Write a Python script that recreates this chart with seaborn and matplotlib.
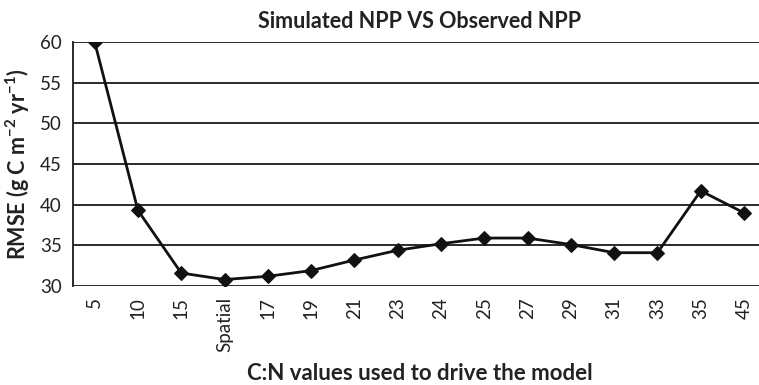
import matplotlib
matplotlib.use("Agg")
import matplotlib.pyplot as plt
import seaborn as sns
import pandas as pd

# C:N ratio scenarios and RMSE of simulated NPP
cn_labels = ["5", "10", "15", "Spatial", "17", "19", "21", "23", "24",
             "25", "27", "29", "31", "33", "35", "45"]
rmse = [60.0, 39.3, 31.6, 30.8, 31.2, 31.9, 33.2, 34.4, 35.2,
        35.9, 35.9, 35.1, 34.1, 34.1, 41.7, 39.0]
y_ticks = [30, 35, 40, 45, 50, 55, 60]

sns.set_theme(style="white")
plt.rcParams["font.family"] = ["Lato", "DejaVu Sans"]
plt.rcParams["mathtext.fontset"] = "custom"
plt.rcParams["mathtext.rm"] = "Lato"
plt.rcParams["mathtext.bf"] = "Lato:bold"

df = pd.DataFrame({"cn": cn_labels, "rmse": rmse})

fig = plt.figure(figsize=(7.59, 3.85), dpi=100)
ax = fig.add_axes([0.0962, 0.257, 0.9126, 0.634])

for t in y_ticks:
    ax.axhline(t, color="#1a1a1a", lw=1.3, zorder=1)

sns.lineplot(data=df, x="cn", y="rmse", ax=ax, color="#111111", lw=2.0,
             marker="D", markersize=7, markeredgecolor="#111111",
             sort=False, zorder=3)

ax.set_xlim(-0.5, len(cn_labels) - 0.5)
ax.set_ylim(30, 60)
ax.set_yticks(y_ticks)
ax.set_xticks(range(len(cn_labels)))
ax.set_xticklabels(cn_labels, rotation=90, fontsize=13.5, color="#222222")
ax.tick_params(axis="y", labelsize=13.5, length=0, pad=8, labelcolor="#222222")
ax.tick_params(axis="x", length=0, pad=8)

for side in ["top", "right", "bottom"]:
    ax.spines[side].set_visible(False)
ax.spines["left"].set_color("#1a1a1a")
ax.spines["left"].set_linewidth(1.3)

ax.set_title("Simulated NPP VS Observed NPP", fontsize=15.5, fontweight="bold",
             color="#222222", pad=10)
ax.set_xlabel("C:N values used to drive the model", fontsize=16,
              fontweight="bold", color="#222222", labelpad=8)
ax.set_ylabel(r"RMSE (g C m$^{\mathbf{-2}}$ yr$^{\mathbf{-1}}$)", fontsize=15.5,
              fontweight="bold", color="#222222", labelpad=6)

fig.savefig("out.png", dpi=100)
